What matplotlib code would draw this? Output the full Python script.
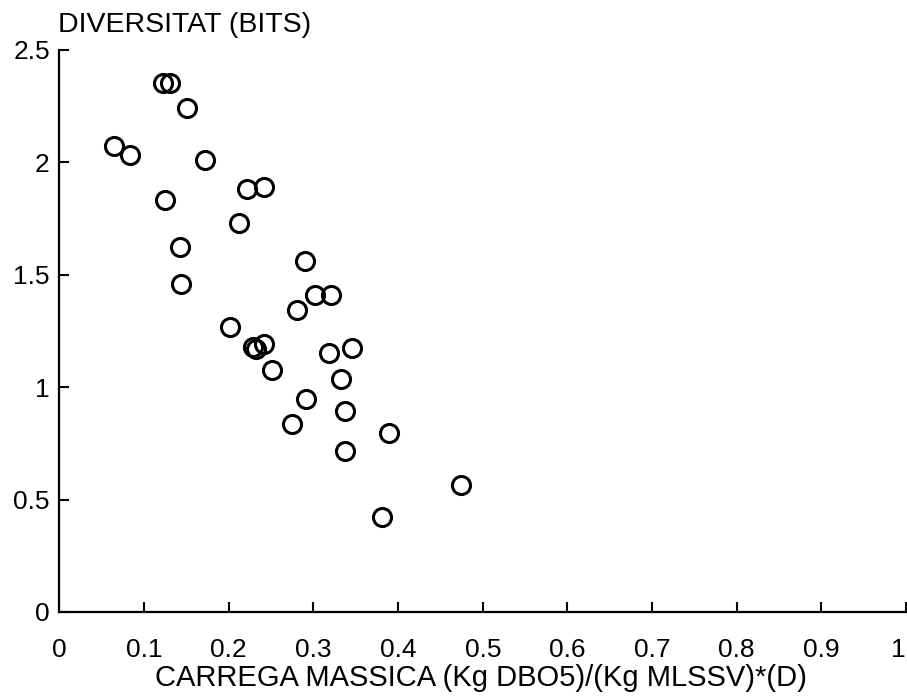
import matplotlib
matplotlib.use('Agg')
import matplotlib.pyplot as plt

# Carrega massica vs diversitat
carrega = [0.122, 0.131, 0.151, 0.064, 0.083, 0.172, 0.221, 0.242, 0.125,
           0.212, 0.142, 0.144, 0.290, 0.302, 0.321, 0.281, 0.201, 0.229,
           0.232, 0.242, 0.251, 0.318, 0.346, 0.332, 0.291, 0.337, 0.275,
           0.389, 0.337, 0.474, 0.381]
diversitat = [2.355, 2.355, 2.242, 2.073, 2.032, 2.011, 1.880, 1.892, 1.833,
              1.732, 1.622, 1.459, 1.563, 1.409, 1.409, 1.343, 1.269, 1.180,
              1.172, 1.192, 1.077, 1.154, 1.173, 1.038, 0.949, 0.896, 0.836,
              0.798, 0.716, 0.565, 0.424]

x_ticks = [0, 0.1, 0.2, 0.3, 0.4, 0.5, 0.6, 0.7, 0.8, 0.9, 1]
x_labels = ['0', '0.1', '0.2', '0.3', '0.4', '0.5', '0.6', '0.7', '0.8', '0.9', '1']
y_ticks = [0, 0.5, 1, 1.5, 2, 2.5]
y_labels = ['0', '0.5', '1', '1.5', '2', '2.5']

plt.rcParams['font.family'] = ['Liberation Sans', 'DejaVu Sans']

fig = plt.figure(figsize=(9.07, 6.96), dpi=100)
ax = fig.add_axes([0.0656, 0.1207, 0.9333, 0.8075])

ax.plot(carrega, diversitat, 'o', markersize=13, markerfacecolor='none',
        markeredgecolor='black', markeredgewidth=2.2, clip_on=False)

ax.set_xlim(0, 1)
ax.set_ylim(0, 2.5)
ax.set_xticks(x_ticks)
ax.set_xticklabels(x_labels)
ax.set_yticks(y_ticks)
ax.set_yticklabels(y_labels)

for side in ['top', 'right']:
    ax.spines[side].set_visible(False)
for side in ['left', 'bottom']:
    ax.spines[side].set_linewidth(1.6)

ax.tick_params(axis='both', direction='in', length=7, width=1.5,
               labelsize=19, colors='black')
ax.tick_params(axis='x', pad=18.5)
ax.tick_params(axis='y', pad=7)
# last x label sits on the right edge, keep it inside the picture
ax.get_xticklabels()[-1].set_horizontalalignment('right')

fig.text(481 / 907, 1 - 678 / 696, 'CARREGA MASSICA (Kg DBO5)/(Kg MLSSV)*(D)',
         fontsize=21, ha='center', va='center')
fig.text(58 / 907, 1 - 25 / 696, 'DIVERSITAT (BITS)', fontsize=20.5,
         ha='left', va='center')

fig.savefig('out.png', dpi=100)
